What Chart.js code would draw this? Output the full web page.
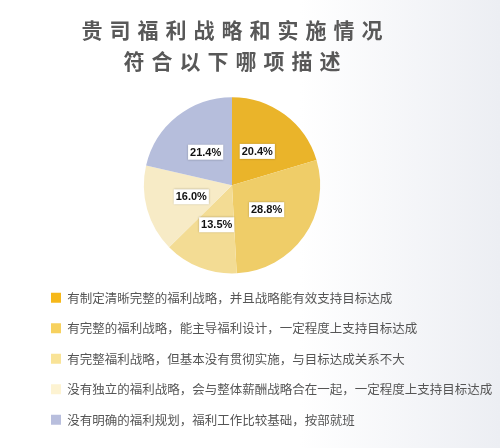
<!DOCTYPE html>
<html>
<head>
<meta charset="utf-8">
<script src="https://cdn.jsdelivr.net/npm/chart.js@4.4.0/dist/chart.umd.min.js"></script>
<style>
  html, body { margin: 0; padding: 0; background: #fff; }
  #wrap { width: 500px; height: 448px; position: relative; }
</style>
</head>
<body>
<div id="wrap"><canvas id="pie"></canvas></div>
<script>
// 贵司福利战略和实施情况 - pie
const categories = [
  "有制定清晰完整的福利战略，并且战略能有效支持目标达成",
  "有完整的福利战略，能主导福利设计，一定程度上支持目标达成",
  "有完整福利战略，但基本没有贯彻实施，与目标达成关系不大",
  "没有独立的福利战略，会与整体薪酬战略合在一起，一定程度上支持目标达成",
  "没有明确的福利规划，福利工作比较基础，按部就班"
];
const shares = [20.4, 28.8, 13.5, 16.0, 21.4];
const sliceColors = ["#EAB42A", "#EFCD68", "#F3DC94", "#F7EBC6", "#B6BEDC"];
const legendColors = ["#F6B81A", "#F7D15E", "#F9E397", "#FDF3D2", "#B8BEDD"];
const titleLines = ["贵司福利战略和实施情况", "符合以下哪项描述"].map(s => s.split('').join('\u2004'));

// white boxed percent labels inside each slice
const boxLabels = {
  id: 'boxLabels',
  afterDatasetsDraw(chart) {
    const ctx = chart.ctx;
    const meta = chart.getDatasetMeta(0);
    ctx.save();
    ctx.font = 'bold 11px "Liberation Sans", Arial, sans-serif';
    ctx.textAlign = 'center';
    ctx.textBaseline = 'middle';
    meta.data.forEach((arc, i) => {
      const p = arc.getProps(['x', 'y', 'startAngle', 'endAngle', 'outerRadius'], true);
      const mid = (p.startAngle + p.endAngle) / 2;
      const r = p.outerRadius * 0.48;
      const x = p.x + Math.cos(mid) * r;
      const y = p.y + Math.sin(mid) * r;
      const txt = shares[i].toFixed(1) + '%';
      const w = ctx.measureText(txt).width + 4;
      const h = 15;
      ctx.shadowColor = 'rgba(0,0,0,0.25)';
      ctx.shadowBlur = 2;
      ctx.fillStyle = '#fff';
      ctx.fillRect(x - w / 2, y - h / 2, w, h);
      ctx.shadowColor = 'transparent';
      ctx.fillStyle = '#111';
      ctx.fillText(txt, x, y + 0.5);
    });
    ctx.restore();
  }
};

// let the legend run to the canvas edge (it is clipped to its box otherwise)
const wideLegend = {
  id: 'wideLegend',
  afterLayout(chart) {
    const lg = chart.legend;
    if (!lg) return;
    lg.right = chart.width;
    lg.width = lg.right - lg.left;
  }
};

const bgFill = {
  id: 'bgFill',
  beforeDraw(chart) {
    const ctx = chart.ctx;
    ctx.save();
    const g = ctx.createLinearGradient(300, 0, chart.width, 0);
    g.addColorStop(0, 'rgba(255,255,255,1)');
    g.addColorStop(1, 'rgba(236,238,243,1)');
    ctx.fillStyle = '#fff';
    ctx.fillRect(0, 0, chart.width, chart.height);
    ctx.fillStyle = g;
    ctx.fillRect(300, 0, chart.width - 300, chart.height);
    ctx.restore();
  }
};

new Chart(document.getElementById('pie'), {
  type: 'pie',
  data: {
    labels: categories,
    datasets: [{
      data: shares,
      backgroundColor: sliceColors,
      borderWidth: 0
    }]
  },
  options: {
    responsive: true,
    maintainAspectRatio: false,
    animation: false,
    layout: { padding: { left: 33, right: 69, top: 0, bottom: 12 } },
    plugins: {
      title: {
        display: true,
        text: titleLines,
        color: '#585858',
        font: { family: '"Noto Sans CJK SC", sans-serif', size: 21, weight: 'bold', lineHeight: 1.48 },
        padding: { top: 14, bottom: 21 }
      },
      legend: {
        position: 'bottom',
        align: 'start',
        labels: {
          boxWidth: 10,
          boxHeight: 10,
          padding: 18,
          color: '#555',
          font: { family: '"Noto Sans CJK SC", sans-serif', size: 12.5 },
          generateLabels(chart) {
            const items = Chart.overrides.pie.plugins.legend.labels.generateLabels(chart);
            items.forEach((it, i) => {
              it.fillStyle = legendColors[i];
              it.strokeStyle = legendColors[i];
              it.lineWidth = 0;
            });
            return items;
          }
        }
      },
      tooltip: { enabled: false }
    }
  },
  plugins: [bgFill, wideLegend, boxLabels]
});
</script>
</body>
</html>
